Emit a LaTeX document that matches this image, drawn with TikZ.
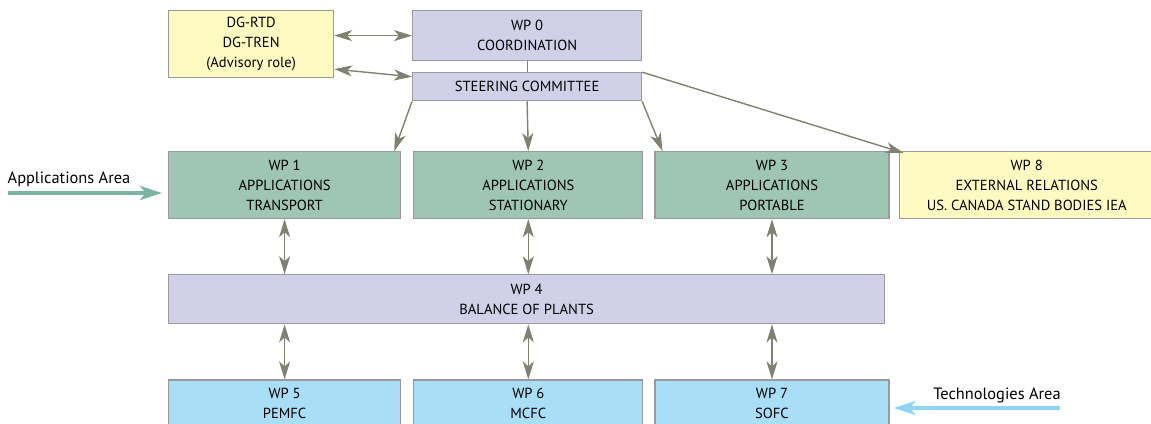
\documentclass[tikz,border=0pt]{standalone}
\usepackage{fontspec}
\setmainfont{PT Sans}
\usepackage{tikz}
\usetikzlibrary{positioning,calc,arrows.meta}
\definecolor{wplilac}{HTML}{D1D0E9}
\definecolor{wpgreen}{HTML}{9FC5B5}
\definecolor{wpyellow}{HTML}{FFF9C2}
\definecolor{wpblue}{HTML}{A9DEF6}
\definecolor{wpedge}{HTML}{9A9A9A}
\definecolor{linkgray}{HTML}{7E8270}
\definecolor{appteal}{HTML}{7AB5A2}
\definecolor{techblue}{HTML}{8DD5F5}

\begin{document}
\begin{tikzpicture}[
    wp/.style={draw=wpedge, line width=0.6pt, align=center, inner sep=1pt,
               font=\fontsize{7.3}{10}\selectfont},
    link/.style={draw=linkgray, line width=0.7pt,
                 -{Stealth[length=9pt,width=5.5pt,inset=2.5pt]}},
    dlink/.style={link, {Stealth[length=9pt,width=5.5pt,inset=2.5pt]}-{Stealth[length=9pt,width=5.5pt,inset=2.5pt]}},
    area/.style={line width=2.2pt, -{Stealth[length=11pt,width=7pt,inset=3pt]}},
    arealabel/.style={font=\fontsize{8.2}{10}\selectfont, inner sep=0pt}]
\useasboundingbox (0,0) rectangle (575.5pt,-211.5pt);

% management level
\node[wp, fill=wpyellow, minimum width=82.5pt, minimum height=33.5pt, anchor=north west]
  (dg) at (84pt,-5pt) {DG-RTD\\DG-TREN\\(Advisory role)};
\node[wp, fill=wplilac, minimum width=114.5pt, minimum height=25pt, anchor=north west]
  (wp0) at (206pt,-5pt) {WP 0\\COORDINATION};
\node[wp, fill=wplilac, minimum width=114.5pt, minimum height=14pt, below=5.5pt of wp0]
  (steer) {STEERING COMMITTEE};

% applications row
\node[wp, fill=wpgreen, minimum width=116pt, minimum height=33.5pt, anchor=north west]
  (wp1) at (84pt,-75.5pt) {WP 1\\APPLICATIONS\\TRANSPORT};
\node[wp, fill=wpgreen, minimum width=114.5pt, minimum height=33.5pt, right=6pt of wp1]
  (wp2) {WP 2\\APPLICATIONS\\STATIONARY};
\node[wp, fill=wpgreen, minimum width=117pt, minimum height=33.5pt, right=5.5pt of wp2]
  (wp3) {WP 3\\APPLICATIONS\\PORTABLE};
\node[wp, fill=wpyellow, minimum width=127.5pt, minimum height=33.5pt, right=4.5pt of wp3]
  (wp8) {WP 8\\EXTERNAL RELATIONS\\US. CANADA STAND BODIES IEA};

% balance of plants
\node[wp, fill=wplilac, minimum width=358pt, minimum height=24.5pt,
      below=27.5pt of wp1.south west, anchor=north west] (wp4) {WP 4\\BALANCE OF PLANTS};

% technologies row
\node[wp, fill=wpblue, minimum width=116pt, minimum height=23pt,
      below=27.5pt of wp4.south west, anchor=north west] (wp5) {WP 5\\PEMFC};
\node[wp, fill=wpblue, minimum width=114.5pt, minimum height=23pt, right=6pt of wp5]
  (wp6) {WP 6\\MCFC};
\node[wp, fill=wpblue, minimum width=117pt, minimum height=23pt, right=5.5pt of wp6]
  (wp7) {WP 7\\SOFC};

% side areas
\node[arealabel] (apparea) at (34.5pt,-89.5pt) {Applications Area};
\coordinate (appstart) at (4pt,-96.5pt);
\node[arealabel] (techarea) at (498.5pt,-197.5pt) {Technologies Area};
\coordinate (techstart) at (530pt,-204pt);

% connectors
\draw[dlink] (dg.east |- wp0.west) -- (wp0.west);
\draw[dlink] ([yshift=-12.5pt]dg.east) -- ([yshift=5pt]steer.west);
\draw[draw=linkgray, line width=0.6pt] (wp0.south) -- (steer.north);
\draw[link] (steer.south west) -- ([xshift=-3.5pt]wp1.north east);
\draw[link] (steer.south) -- (wp2.north);
\draw[link] (steer.south east) -- ([xshift=4pt]wp3.north west);
\draw[link] (steer.north east) -- ([xshift=2.5pt,yshift=-1pt]wp8.north west);
\foreach \a/\b in {wp1/wp4, wp2/wp4, wp3/wp4}
  \draw[dlink] (\a.south) -- (\a.south |- \b.north);
\foreach \a/\b in {wp5/wp4, wp6/wp4, wp7/wp4}
  \draw[dlink] (\a.north) -- (\a.north |- \b.south);
\draw[area, appteal] (appstart) -- (appstart -| {$(wp1.west)+(-3pt,0)$});
\draw[area, techblue] (techstart) -- (techstart -| {$(wp7.east)+(2pt,0)$});
\end{tikzpicture}
\end{document}
